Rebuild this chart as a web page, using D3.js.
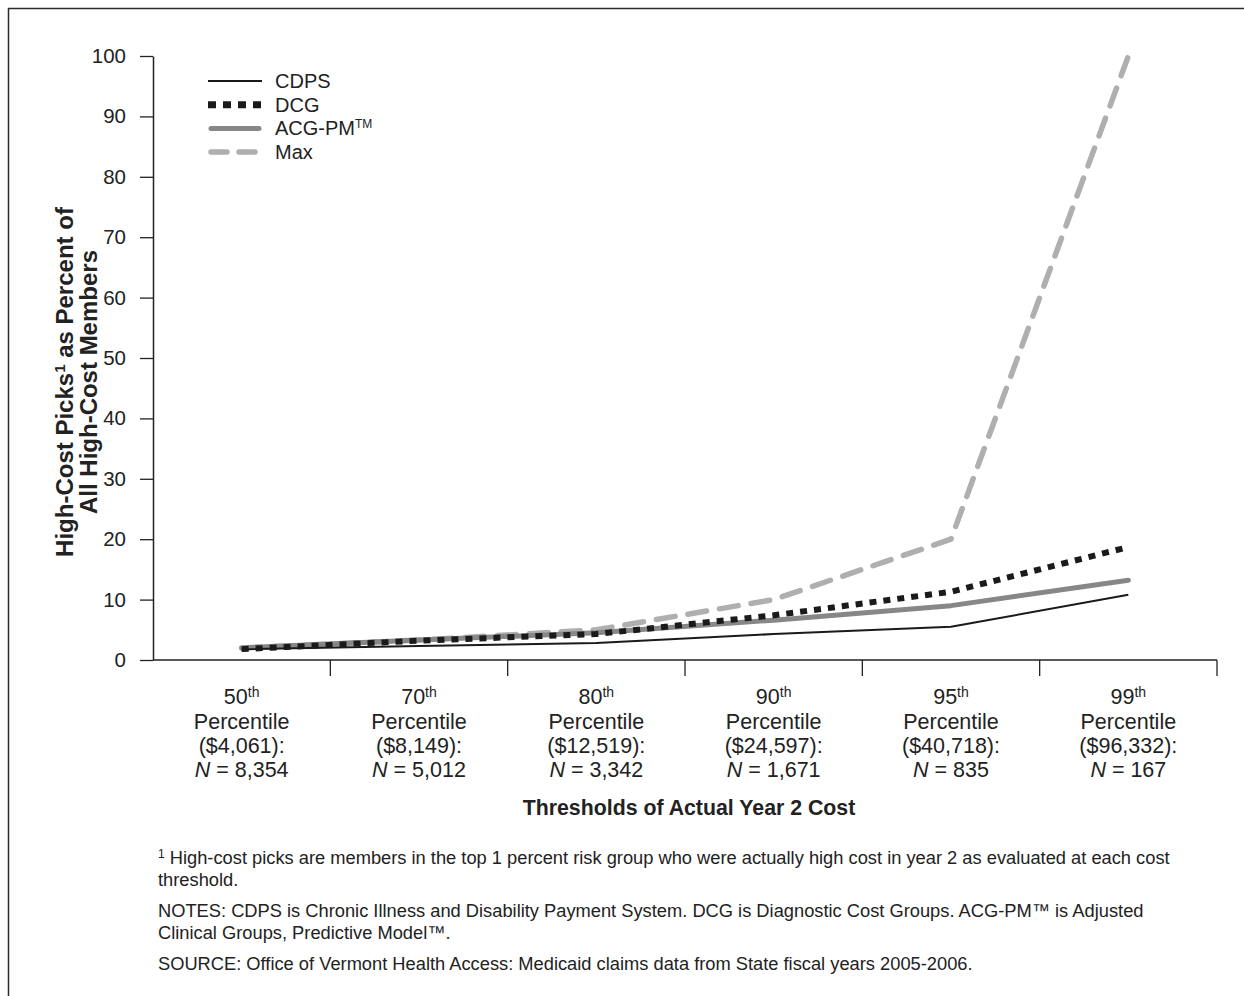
<!DOCTYPE html>
<html>
<head>
<meta charset="utf-8">
<script src="https://cdn.jsdelivr.net/npm/d3@7"></script>
<style>
  body { margin: 0; background: #fff; }
  svg { display: block; font-family: 'Liberation Sans', Arial, sans-serif; }
</style>
</head>
<body>
<div id="container"></div>
<script>
// thresholds on the x axis
const pctls = ['50', '70', '80', '90', '95', '99'];
const costs = ['($4,061):', '($8,149):', '($12,519):', '($24,597):', '($40,718):', '($96,332):'];
const counts = ['8,354', '5,012', '3,342', '1,671', '835', '167'];

// percent values
const cdps = [1.8, 2.3, 2.8, 4.3, 5.5, 10.8];
const dcg = [1.8, 3.2, 4.3, 7.4, 11.3, 18.7];
const acg = [2.0, 3.3, 4.5, 6.6, 9.0, 13.2];
const maxv = [2.0, 3.3, 5.0, 10.0, 20.0, 100.0];

const yTicks = [0, 10, 20, 30, 40, 50, 60, 70, 80, 90, 100];

const series = [
    { name: 'Max', values: maxv, color: '#afafaf', width: 5.5, dash: '19,13', cap: 'round' },
    { name: 'ACG-PM', values: acg, color: '#878787', width: 5, dash: null, cap: 'round' },
    { name: 'DCG', values: dcg, color: '#1a1a1a', width: 6, dash: '7,7', cap: 'butt' },
    { name: 'CDPS', values: cdps, color: '#1a1a1a', width: 2, dash: null, cap: 'butt' }
];
const legendOrder = ['CDPS', 'DCG', 'ACG-PM', 'Max'];

const W = 1244, H = 996;
let viz = d3.select('#container')
    .append('svg')
    .attr('width', W)
    .attr('height', H);

// frame: top and left edges only
viz.append('path')
    .attr('d', `M8.5,${H} L8.5,8.5 L${W},8.5`)
    .attr('fill', 'none')
    .attr('stroke', '#2a2a2a')
    .attr('stroke-width', 1.5);

let x = d3.scaleBand().domain(pctls).range([153, 1217]);
let y = d3.scaleLinear().domain([0, 100]).range([660, 56]);
let cx = p => x(p) + x.bandwidth() / 2;

// y axis
let yAxis = viz.append('g')
    .attr('transform', 'translate(153,0)')
    .call(d3.axisLeft(y).tickValues(yTicks).tickSize(13).tickPadding(14).tickSizeOuter(0));
yAxis.select('.domain').attr('stroke', '#222').attr('stroke-width', 1.5);
yAxis.selectAll('.tick line').attr('stroke', '#222').attr('stroke-width', 1.3);
yAxis.selectAll('.tick text')
    .attr('font-size', 20.5)
    .attr('font-family', 'Liberation Sans, Arial, sans-serif')
    .attr('fill', '#222');

// x axis line with ticks at band edges
viz.append('line')
    .attr('x1', 153).attr('x2', 1217)
    .attr('y1', 660).attr('y2', 660)
    .attr('stroke', '#222').attr('stroke-width', 1.5);
viz.selectAll('.xtick').data(pctls)
    .enter()
    .append('line')
    .attr('class', 'xtick')
    .attr('x1', d => x(d) + x.bandwidth()).attr('x2', d => x(d) + x.bandwidth())
    .attr('y1', 660).attr('y2', 676)
    .attr('stroke', '#222').attr('stroke-width', 1.3);

// x labels
let xLab = viz.selectAll('.xlab').data(pctls)
    .enter()
    .append('text')
    .attr('class', 'xlab')
    .attr('text-anchor', 'middle')
    .attr('font-size', 21.5)
    .attr('fill', '#222');
xLab.each(function (d, i) {
    let t = d3.select(this);
    let px = cx(d);
    let l1 = t.append('tspan').attr('x', px).attr('y', 704);
    l1.append('tspan').text(d);
    l1.append('tspan').text('th').attr('font-size', 14).attr('dy', -7);
    t.append('tspan').attr('x', px).attr('y', 729).text('Percentile');
    t.append('tspan').attr('x', px).attr('y', 753).text(costs[i]);
    let l4 = t.append('tspan').attr('x', px).attr('y', 777);
    l4.append('tspan').text('N').attr('font-style', 'italic');
    l4.append('tspan').text(' = ' + counts[i]);
});

viz.append('text')
    .attr('x', 689).attr('y', 815)
    .attr('text-anchor', 'middle')
    .attr('font-size', 21.3)
    .attr('font-weight', 'bold')
    .attr('fill', '#222')
    .text('Thresholds of Actual Year 2 Cost');

// y title
let yt = viz.append('text')
    .attr('transform', 'translate(0,382) rotate(-90)')
    .attr('text-anchor', 'middle')
    .attr('font-size', 24)
    .attr('font-weight', 'bold')
    .attr('fill', '#222');
let yt1 = yt.append('tspan').attr('x', 0).attr('y', 73);
yt1.append('tspan').text('High-Cost Picks');
yt1.append('tspan').text('1').attr('font-size', 15).attr('dy', -8);
yt1.append('tspan').text(' as Percent of').attr('dy', 8);
yt.append('tspan').attr('x', 0).attr('y', 97).text('All High-Cost Members');

// lines
let line = d3.line()
    .x((d, i) => cx(pctls[i]))
    .y(d => y(d));

viz.selectAll('.series').data(series)
    .enter()
    .append('path')
    .attr('class', 'series')
    .attr('d', d => line(d.values))
    .attr('fill', 'none')
    .attr('stroke', d => d.color)
    .attr('stroke-width', d => d.width)
    .attr('stroke-dasharray', d => d.dash)
    .attr('stroke-linecap', d => d.cap)
    .attr('stroke-linejoin', 'round');

// legend
let legend = viz.selectAll('.legend').data(legendOrder.map(n => series.find(s => s.name === n)))
    .enter()
    .append('g')
    .attr('class', 'legend')
    .attr('transform', (d, i) => `translate(208,${81 + i * 23.7})`);
legend.append('line')
    .attr('x1', d => d.cap === 'round' ? 3 : 0)
    .attr('x2', d => d.cap === 'round' ? 51 : 54)
    .attr('stroke', d => d.color)
    .attr('stroke-width', d => d.name === 'DCG' ? 7 : d.width)
    .attr('stroke-dasharray', d => d.name === 'DCG' ? '8,7' : (d.name === 'Max' ? '16,12' : null))
    .attr('stroke-linecap', d => d.cap);
let lt = legend.append('text')
    .attr('x', 67).attr('y', 7)
    .attr('font-size', 20)
    .attr('fill', '#222');
lt.each(function (d) {
    let t = d3.select(this);
    t.append('tspan').text(d.name);
    if (d.name === 'ACG-PM') t.append('tspan').text('TM').attr('font-size', 12).attr('dy', -7);
});

// footnotes
const notes = [
    { y: 864, parts: [['1', true], [' High-cost picks are members in the top 1 percent risk group who were actually high cost in year 2 as evaluated at each cost', false]] },
    { y: 886, parts: [['threshold.', false]] },
    { y: 917, parts: [['NOTES: CDPS is Chronic Illness and Disability Payment System. DCG is Diagnostic Cost Groups. ACG-PM™ is Adjusted', false]] },
    { y: 939, parts: [['Clinical Groups, Predictive Model™.', false]] },
    { y: 970, parts: [['SOURCE: Office of Vermont Health Access: Medicaid claims data from State fiscal years 2005-2006.', false]] }
];
notes.forEach(n => {
    let t = viz.append('text')
        .attr('x', 158).attr('y', n.y)
        .attr('font-size', 18.3)
        .attr('fill', '#222');
    n.parts.forEach(p => {
        if (p[1]) t.append('tspan').text(p[0]).attr('font-size', 12).attr('dy', -6);
        else t.append('tspan').text(p[0]).attr('dy', n.parts.length > 1 ? 6 : 0);
    });
});
</script>
</body>
</html>
